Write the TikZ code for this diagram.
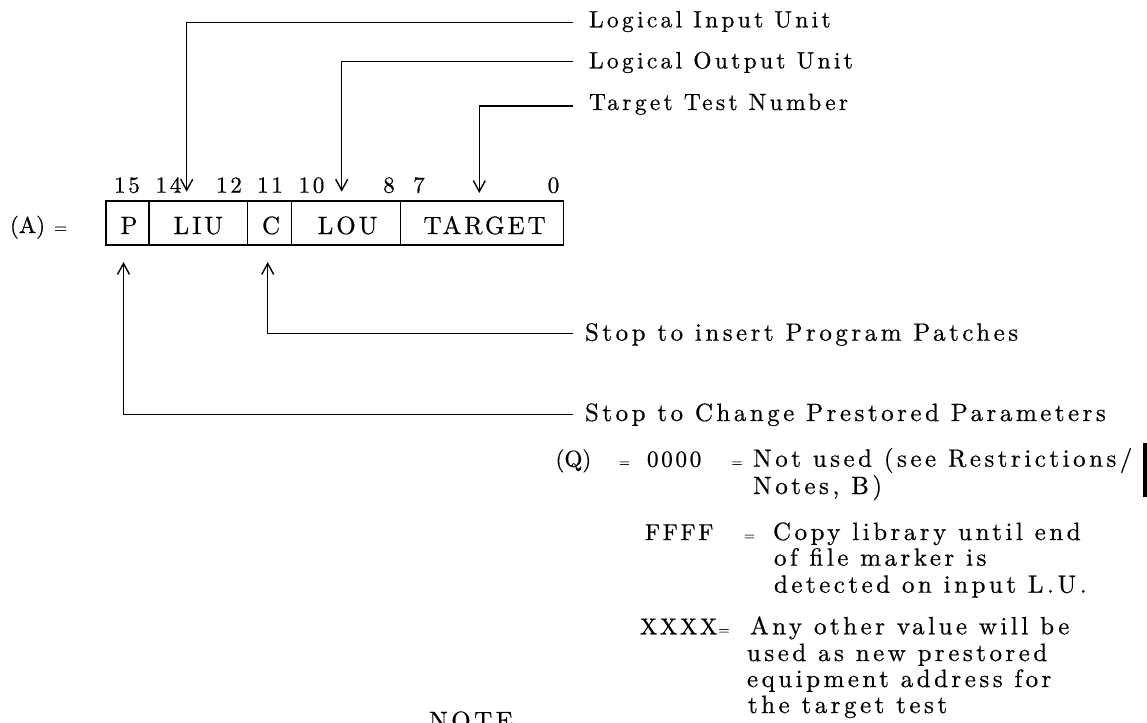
\documentclass[tikz,border=0pt]{standalone}
\usepackage{fontspec}
\newfontfamily\lmside[LetterSpace=14,FakeBold=0.6]{lmroman10-regular.otf}
\newfontfamily\lmmid[LetterSpace=12,FakeBold=0.6]{lmroman10-regular.otf}
\newfontfamily\lmplain[FakeBold=0.6]{lmroman10-regular.otf}
\usetikzlibrary{arrows.meta}
\tikzset{
  every node/.style={inner sep=0pt, outer sep=0pt},
  side/.style={font=\lmside\fontsize{25}{30}\selectfont, anchor=base west},
  toplbl/.style={font=\lmside\fontsize{23.5}{28}\selectfont, anchor=base west},
  code/.style={font=\lmmid\fontsize{23}{27}\selectfont, anchor=base west},
  bit/.style={font=\lmmid\fontsize{23}{27}\selectfont, anchor=base},
  cell/.style={draw, line width=1.4pt, minimum height=44pt, text height=22pt, text depth=0pt,
    font=\lmmid\fontsize{25}{30}\selectfont},
  eqs/.style={font=\lmplain\fontsize{14}{16}\selectfont, anchor=base west},
  arr/.style={line width=1.4pt, -{Straight Barb[length=11pt,width=12pt,line width=1.4pt]}},
}
\begin{document}
\begin{tikzpicture}[x=1pt,y=-1pt]
\useasboundingbox (0,0) rectangle (1147,722);

% register cells
\node[cell, minimum width=43pt]    (cP)   at (127.5,223) {\hspace{3pt}P};
\node[cell, minimum width=98.5pt]  (cLIU) at (198.25,223) {LIU\hspace{22pt}};
\node[cell, minimum width=44pt]    (cC)   at (269.5,223) {\hspace{3pt}C};
\node[cell, minimum width=109.2pt] (cLOU) at (346.1,223) {\hspace{3pt}LOU};
\node[cell, minimum width=162.8pt] (cT)   at (482.1,223) {\hspace{5pt}TARGET};

% (A) =
\node[font=\lmplain\fontsize{23}{27}\selectfont, anchor=base west] (A) at (10,233) {(A)};
\node[font=\lmplain\fontsize{17}{20}\selectfont, anchor=base west] (Aeq) at (54,233) {=};

% bit numbers
\node[bit] (b15) at (127,192.7) {15};
\node[bit] (b14) at (168.5,192.7) {14};
\node[bit] (b12) at (229,192.7) {12};
\node[bit] (b11) at (270,192.7) {11};
\node[bit] (b10) at (311.5,192.7) {10};
\node[bit] (b8)  at (389,192.7) {8};
\node[bit] (b7)  at (419,192.7) {7};
\node[bit] (b0)  at (553.5,192.7) {0};

% labels
\node[toplbl] (lli) at (589,27.3) {Logical Input Unit};
\node[toplbl] (llo) at (589,68.3) {Logical Output Unit};
\node[toplbl] (ltt) at (589,110) {Target Test Number};
\node[side] (lsi) at (585,340.7) {Stop to insert Program Patches};
\node[side] (lsc) at (585,421) {Stop to Change Prestored Parameters};

% connector ends
\coordinate (s1) at (573.3,22.7);
\coordinate (s2) at (573.3,61.7);
\coordinate (s3) at (573.3,106);
\coordinate (s4) at (573.3,333.5);
\coordinate (s5) at (573.3,414.5);
\coordinate (a1) at (186.7,191.7);
\coordinate (a2) at (341.7,191.7);
\coordinate (a3) at (479.3,193);
\coordinate (a4) at (267.7,262);
\coordinate (a5) at (123.5,262);

\draw[arr] (s1) -| (a1);
\draw[arr] (s2) -| (a2);
\draw[arr] (s3) -| (a3);
\draw[arr] (s4) -| (a4);
\draw[arr] (s5) -| (a5);

% (Q) block
\node[font=\lmplain\fontsize{23}{27}\selectfont, anchor=base west] (q) at (555.5,466.7) {(Q)};
\node[eqs]  (qe1) at (619,466.7) {=};
\node[code] (q0)  at (647,466.7) {0000};
\node[eqs]  (qe2) at (731.5,466.7) {=};
\node[side] (q0a) at (753,466.7) {Not used (see Restrictions/};
\node[side] (q0b) at (753,494) {Notes, B)};
\node[code] (qf)  at (645,540) {FFFF};
\node[eqs]  (qe3) at (744,540) {=};
\node[side] (qfa) at (773,540) {Copy library until end};
\node[side] (qfb) at (774,565.7) {of file marker is};
\node[side] (qfc) at (774,592.7) {detected on input L.U.};
\node[code] (qx)  at (640,634.3) {XXXX};
\node[eqs]  (qe4) at (718.5,634.3) {=};
\node[side] (qxa) at (750,634.3) {Any other value will be};
\node[side] (qxb) at (747,661) {used as new prestored};
\node[side] (qxc) at (747,687) {equipment address for};
\node[side] (qxd) at (748,713) {the target test};

\node[side] (note) at (429,729) {NOTE};

% change bar
\fill (1142.5,443) rectangle (1147,497);
\end{tikzpicture}
\end{document}
